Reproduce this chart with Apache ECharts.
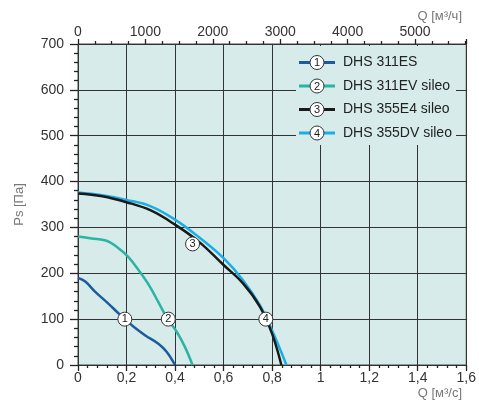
<!DOCTYPE html>
<html>
<head>
<meta charset="utf-8">
<script src="https://cdn.jsdelivr.net/npm/echarts@6/dist/echarts.min.js"></script>
<style>
html,body{margin:0;padding:0;background:#fff;}
#c{width:479px;height:408px;}
</style>
</head>
<body>
<div id="c"></div>
<script>
// ---- data ----
var seriesNames = ['DHS 311ES', 'DHS 311EV sileo', 'DHS 355E4 sileo', 'DHS 355DV sileo'];
var seriesColors = ['#1c5b9e', '#2bb3a3', '#1a1a1a', '#1aaee6'];

var q1 = [0, 0.03, 0.07, 0.125, 0.166, 0.193, 0.228, 0.276, 0.33, 0.365, 0.4];
var p1 = [190, 182, 160, 134, 113, 100, 84, 65, 47, 29, 0];

var q2 = [0, 0.056, 0.118, 0.159, 0.207, 0.255, 0.296, 0.33, 0.372, 0.406, 0.44, 0.472];
var p2 = [280, 276, 271, 258, 236, 203, 171, 138, 98, 73, 40, 0];

var q3 = [0, 0.1, 0.2, 0.3, 0.4, 0.5, 0.6, 0.68, 0.75, 0.8, 0.838];
var p3 = [374, 368, 355, 337, 306, 268, 218, 178, 127, 68, 0];

var q4 = [0, 0.1, 0.2, 0.3, 0.4, 0.5, 0.6, 0.68, 0.75, 0.8, 0.859];
var p4 = [376, 370, 360, 346, 317, 278, 233, 185, 130, 75, 0];

// circled-number markers on the curves (data units)
var markerQ = [0.193, 0.372, 0.472, 0.774];
var markerP = [100, 100, 264, 100];
var markerText = ['1', '2', '3', '4'];

var bottomTicks = {min: 0, max: 1.6, interval: 0.2};
var topTicks = {min: 0, max: 5760, interval: 1000};
var leftTicks = {min: 0, max: 700, interval: 100};

var yName = 'Ps [Па]';
var xNameBottom = 'Q [м³/с]';
var xNameTop = 'Q [м³/ч]';

// ---- chart ----
function zip(a, b) { return a.map(function (v, i) { return [v, b[i]]; }); }
var qs = [q1, q2, q3, q4], ps = [p1, p2, p3, p4];

var FONT = 'Liberation Sans, Arial, sans-serif';
var chart = echarts.init(document.getElementById('c'), null, {renderer: 'canvas'});

var series = qs.map(function (q, i) {
  return {
    type: 'line', name: seriesNames[i], data: zip(q, ps[i]),
    xAxisIndex: 0, yAxisIndex: 0,
    smooth: 0.4, symbol: 'none',
    lineStyle: {color: seriesColors[i], width: 2.5},
    z: 3 + (i === 2 ? 1 : 0)
  };
});
series.push({
  type: 'scatter', xAxisIndex: 0, yAxisIndex: 0,
  data: markerQ.map(function (q, i) { return {value: [q, markerP[i]], name: markerText[i]}; }),
  symbol: 'circle', symbolSize: 14, z: 6,
  itemStyle: {color: '#fff', borderColor: '#333', borderWidth: 1, opacity: 1},
  label: {show: true, position: 'inside', formatter: '{b}', fontSize: 11, color: '#222', fontFamily: FONT}
});

// legend drawn as graphic
var lg = [];
lg.push({type: 'rect', shape: {x: 296, y: 46, width: 160, height: 99}, style: {fill: '#d7ecea'}, z: 10});
for (var i = 0; i < 4; i++) {
  var cy = 62.5 + i * 23.5;
  lg.push({type: 'line', shape: {x1: 299, y1: cy, x2: 335, y2: cy}, style: {stroke: seriesColors[i], lineWidth: 3}, z: 11});
  lg.push({type: 'circle', shape: {cx: 317, cy: cy, r: 7}, style: {fill: '#fff', stroke: '#333', lineWidth: 1}, z: 12});
  lg.push({type: 'text', style: {text: markerText[i], x: 317, y: cy + 0.5, font: '11px ' + FONT, fill: '#222',
    align: 'center', verticalAlign: 'middle', textAlign: 'center', textVerticalAlign: 'middle'}, z: 13});
  lg.push({type: 'text', style: {text: seriesNames[i], x: 343, y: cy, font: '14px ' + FONT, fill: '#222',
    align: 'left', verticalAlign: 'middle', textAlign: 'left', textVerticalAlign: 'middle'}, z: 13});
}
lg.push({type: 'text', style: {text: xNameTop, x: 462, y: 16, font: '13px ' + FONT, fill: '#777',
  align: 'right', verticalAlign: 'middle', textAlign: 'right', textVerticalAlign: 'middle'}, z: 13});
lg.push({type: 'text', style: {text: xNameBottom, x: 462, y: 393, font: '13px ' + FONT, fill: '#777',
  align: 'right', verticalAlign: 'middle', textAlign: 'right', textVerticalAlign: 'middle'}, z: 13});

function commaFmt(v) { return String(Math.round(v * 1000) / 1000).replace('.', ','); }
function plainFmt(v) { return String(Math.round(v)); }

var TICK = {color: '#222', width: 1.3};
chart.setOption({
  animation: false,
  backgroundColor: '#fff',
  textStyle: {fontFamily: FONT},
  grid: {left: 78, right: 12, top: 44, bottom: 43, show: true, backgroundColor: '#d7ecea', borderColor: '#444', borderWidth: 1},
  xAxis: [{
    type: 'value', position: 'bottom', min: bottomTicks.min, max: bottomTicks.max, interval: bottomTicks.interval,
    axisLine: {show: true, onZero: false, lineStyle: {color: '#333', width: 1}},
    axisTick: {show: true, inside: false, length: 6, lineStyle: TICK},
    minorTick: {show: true, splitNumber: 5, length: 3, lineStyle: TICK},
    splitLine: {show: true, lineStyle: {color: '#333', width: 1}},
    axisLabel: {formatter: commaFmt, fontSize: 14, color: '#333', margin: 6, fontFamily: FONT}
  }, {
    type: 'value', position: 'top', min: topTicks.min, max: topTicks.max, interval: topTicks.interval,
    axisLine: {show: true, onZero: false, lineStyle: {color: '#333', width: 1}},
    axisTick: {show: true, inside: false, length: 5, lineStyle: TICK},
    minorTick: {show: true, splitNumber: 4, length: 3, lineStyle: TICK},
    splitLine: {show: false},
    axisLabel: {formatter: plainFmt, fontSize: 14, color: '#333', margin: 5, showMaxLabel: false, fontFamily: FONT}
  }],
  yAxis: [{
    type: 'value', min: leftTicks.min, max: leftTicks.max, interval: leftTicks.interval,
    name: yName, nameLocation: 'middle', nameGap: 52, nameRotate: 90,
    nameTextStyle: {fontSize: 13, color: '#777', fontFamily: FONT},
    axisLine: {show: true, lineStyle: {color: '#333', width: 1}},
    axisTick: {show: true, inside: false, length: 8, lineStyle: TICK},
    minorTick: {show: true, splitNumber: 5, length: 4, lineStyle: TICK},
    splitLine: {show: true, lineStyle: {color: '#333', width: 1}},
    axisLabel: {fontSize: 14, color: '#333', margin: 14, fontFamily: FONT}
  }],
  graphic: {elements: lg},
  series: series
});
</script>
</body>
</html>
